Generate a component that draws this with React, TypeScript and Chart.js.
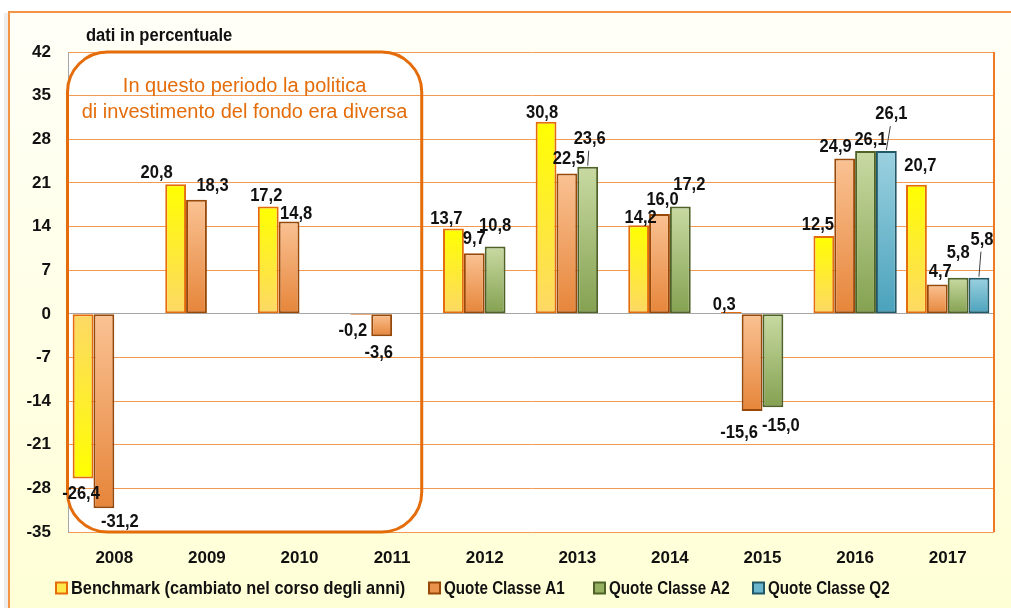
import React, { useEffect, useRef } from 'react';
import { Chart, registerables } from 'chart.js';

Chart.register(...registerables);

// ---------- data ----------
const years = ['2008', '2009', '2010', '2011', '2012', '2013', '2014', '2015', '2016', '2017'];
const benchmark = [-26.4, 20.8, 17.2, -0.2, 13.7, 30.8, 14.2, 0.3, 12.5, 20.7];
const classeA1 = [-31.2, 18.3, 14.8, -3.6, 9.7, 22.5, 16.0, -15.6, 24.9, 4.7];
const classeA2 = [null, null, null, null, 10.8, 23.6, 17.2, -15.0, 26.1, 5.8];
const classeQ2 = [null, null, null, null, null, null, null, null, 26.1, 5.8];
const seriesNames = [
  'Benchmark (cambiato nel corso degli anni)',
  'Quote Classe A1',
  'Quote Classe A2',
  'Quote Classe Q2',
];
const yMin = -35;
const yMax = 42;
const yStep = 7;
const yAxisTitle = 'dati in percentuale';
const noteLines = ['In questo periodo la politica', 'di investimento del fondo era diversa'];
const noteFirstYear = 0;
const noteLastYear = 3;

// label nudges (pixels) per series, per year
const labelDx = [
  [-2, -19, -2, -8, -7, -4, 2, -7, -6, 4],
  [16, 16, 7, -3, 0, 2, 3, -13, -9, 3],
  [0, 0, 0, 0, 0, 2, 9, 8, 5, 0],
  [0, 0, 0, 0, 0, 0, 0, 0, 5, 3],
];
const labelDy = [
  [3, -2, -2, 4, -1, 0, 1, 2, -2, -10],
  [1, -5, 1, 5, -6, -6, -5, 10, -3, -4],
  [0, 0, 0, 0, -12, -19, -13, 6, -2, -16],
  [0, 0, 0, 0, 0, 0, 0, 0, -28, -29],
];
const leaderLines = [[], [], [5], [8, 9]];
// legend item offsets from the plot's left edge
const legendOffsets = [-13, 360, 525, 684];

// ---------- styles ----------
const SANS = "'Liberation Sans', Arial, sans-serif";

const palettes = [
  { a: '#FFFF00', b: '#FDD866', border: '#E46C0A', legend: '#FFE94A' },
  { a: '#FAC293', b: '#E6853A', border: '#984807', legend: '#E8924C' },
  { a: '#C8DAA2', b: '#84A150', border: '#4F6228', legend: '#94B060' },
  { a: '#9BD1E0', b: '#4AA2BC', border: '#215968', legend: '#6BB6CC' },
];

function barFill(i: number) {
  return (c: any) => {
    const p = palettes[i];
    const chart = c.chart;
    const v = c.raw;
    if (c.type !== 'data' || v == null || !chart.chartArea || !chart.scales.y) return p.b;
    const ys = chart.scales.y;
    const yv = ys.getPixelForValue(v);
    const y0 = ys.getPixelForValue(0);
    const top = Math.min(yv, y0);
    const bot = Math.max(yv, y0);
    if (bot - top < 1) return p.b;
    const g = chart.ctx.createLinearGradient(0, top, 0, bot);
    if (i === 0 && v < 0) {
      g.addColorStop(0, p.b);
      g.addColorStop(1, p.a);
    } else {
      g.addColorStop(0, p.a);
      g.addColorStop(1, p.b);
    }
    return g;
  };
}

const fmt = (v: number) => v.toFixed(1).replace('.', ',');

// draws horizontally condensed text (emulates a narrow face)
function narrowText(ctx: CanvasRenderingContext2D, text: string, x: number, y: number, sx: number) {
  ctx.save();
  ctx.translate(x, y);
  ctx.scale(sx, 1);
  ctx.fillText(text, 0, 0);
  ctx.restore();
}

const decorPlugin = {
  id: 'decor',
  beforeDraw(chart: any) {
    const { ctx, width, height, chartArea } = chart;
    ctx.save();
    ctx.fillStyle = '#FFFFFF';
    ctx.fillRect(0, 0, width, height);
    ctx.fillStyle = '#EDEDED';
    ctx.fillRect(4, 13, 4, height);
    const fx = 9;
    const fy = 12;
    const g = ctx.createLinearGradient(0, fy, 0, height);
    g.addColorStop(0, '#FFFFF8');
    g.addColorStop(1, '#FFFFD6');
    ctx.fillStyle = g;
    ctx.fillRect(fx, fy, width - fx + 5, height - fy + 5);
    ctx.strokeStyle = '#F39345';
    ctx.lineWidth = 2;
    ctx.strokeRect(fx, fy, width - fx + 5, height - fy + 5);
    ctx.fillStyle = '#FFFFFF';
    ctx.fillRect(chartArea.left, chartArea.top, chartArea.right - chartArea.left, chartArea.bottom - chartArea.top);
    ctx.restore();
  },
  afterDatasetsDraw(chart: any) {
    const { ctx, chartArea, scales } = chart;
    const xs = scales.x;
    const ys = scales.y;
    ctx.save();
    ctx.strokeStyle = '#EE7A26';
    ctx.lineWidth = 2;
    ctx.beginPath();
    ctx.moveTo(chartArea.right, chartArea.top);
    ctx.lineTo(chartArea.right, chartArea.bottom);
    ctx.stroke();

    // rounded note box
    const catW = (chartArea.right - chartArea.left) / years.length;
    const left = xs.getPixelForValue(noteFirstYear) - catW * 0.5 - 0.5;
    const right = xs.getPixelForValue(noteLastYear) + catW * 0.32;
    const top = ys.getPixelForValue(yMax);
    const bottom = ys.getPixelForValue(yMin);
    const r = 40;
    ctx.strokeStyle = '#E46C0A';
    ctx.lineWidth = 3;
    ctx.beginPath();
    ctx.moveTo(left + r, top);
    ctx.lineTo(right - r, top);
    ctx.arcTo(right, top, right, top + r, r);
    ctx.lineTo(right, bottom - r);
    ctx.arcTo(right, bottom, right - r, bottom, r);
    ctx.lineTo(left + r, bottom);
    ctx.arcTo(left, bottom, left, bottom - r, r);
    ctx.lineTo(left, top + r);
    ctx.arcTo(left, top, left + r, top, r);
    ctx.closePath();
    ctx.stroke();
    ctx.fillStyle = '#E46C0A';
    ctx.font = `20px ${SANS}`;
    ctx.textAlign = 'center';
    ctx.textBaseline = 'alphabetic';
    const cx = (left + right) / 2;
    narrowText(ctx, noteLines[0], cx, top + 40, 1.0);
    narrowText(ctx, noteLines[1], cx, top + 65.5, 1.0);

    // data labels
    ctx.font = `bold 19px ${SANS}`;
    ctx.textAlign = 'center';
    ctx.textBaseline = 'middle';
    chart.data.datasets.forEach((ds: any, di: number) => {
      const meta = chart.getDatasetMeta(di);
      meta.data.forEach((el: any, i: number) => {
        const v = ds.data[i];
        if (v == null) return;
        const pos = v >= 0;
        const lx = el.x + labelDx[di][i];
        const ly = (pos ? el.y - 9 : el.y + 12) + labelDy[di][i];
        ctx.fillStyle = '#111111';
        narrowText(ctx, fmt(v), lx, ly, 0.87);
        if (leaderLines[di].includes(i)) {
          ctx.strokeStyle = '#404040';
          ctx.lineWidth = 1;
          ctx.beginPath();
          ctx.moveTo(lx - 1, ly + 12);
          ctx.lineTo(el.x, el.y - 1);
          ctx.stroke();
        }
      });
    });
    ctx.restore();
  },
  afterDraw(chart: any) {
    const { ctx, chartArea } = chart;
    ctx.save();
    ctx.fillStyle = '#111111';
    ctx.font = `bold 18px ${SANS}`;
    ctx.textAlign = 'left';
    ctx.textBaseline = 'alphabetic';
    narrowText(ctx, yAxisTitle, chartArea.left + 18, chartArea.top - 11, 0.92);

    // legend
    ctx.font = `bold 19px ${SANS}`;
    ctx.textBaseline = 'middle';
    const ly = chartArea.bottom + 56;
    seriesNames.forEach((name, i) => {
      const p = palettes[i];
      const x = chartArea.left + legendOffsets[i];
      const bs = 11;
      ctx.fillStyle = p.legend;
      ctx.fillRect(x + 1, ly - bs / 2, bs, bs);
      ctx.strokeStyle = p.border;
      ctx.lineWidth = 2;
      ctx.strokeRect(x + 1, ly - bs / 2, bs, bs);
      ctx.fillStyle = '#111111';
      narrowText(ctx, name, x + 16, ly + 1, i === 0 ? 0.86 : 0.8);
    });
    ctx.restore();
  },
};

export default function App() {
  const canvasRef = useRef<HTMLCanvasElement | null>(null);

  useEffect(() => {
    const canvas = canvasRef.current;
    if (!canvas) return;
    const chart = new Chart(canvas, {
      type: 'bar',
      data: {
        labels: years,
        datasets: [benchmark, classeA1, classeA2, classeQ2].map((d, i) => ({
          label: seriesNames[i],
          data: d,
          backgroundColor: barFill(i),
          borderColor: palettes[i].border,
          borderWidth: 2,
          borderSkipped: false,
          categoryPercentage: 0.9,
          barPercentage: 1.0,
        })),
      },
      options: {
        responsive: false,
        animation: false,
        layout: { padding: { left: 8, top: 52, right: 17, bottom: 0 } },
        plugins: {
          legend: { display: false },
          tooltip: { enabled: false },
          title: { display: false },
        },
        scales: {
          x: {
            grid: { display: false },
            border: { display: false },
            ticks: {
              color: '#111111',
              font: { family: SANS, size: 17, weight: 'bold' },
              padding: 8,
            },
            afterFit: (s: any) => {
              s.height = 76;
            },
          },
          y: {
            min: yMin,
            max: yMax,
            grid: {
              drawTicks: false,
              color: (c: any) => (c.tick && c.tick.value === 0 ? '#A6A6A6' : '#F39A52'),
              lineWidth: 1,
            },
            border: { display: true, color: '#A6A6A6', width: 1 },
            ticks: {
              stepSize: yStep,
              color: '#111111',
              font: { family: SANS, size: 17, weight: 'bold' },
              padding: 17,
            },
            afterFit: (s: any) => {
              s.width = 60;
            },
          },
        },
      },
      plugins: [decorPlugin],
    } as any);
    return () => chart.destroy();
  }, []);

  return (
    <div style={{ position: 'fixed', left: 0, top: 0, width: 1011, height: 608 }}>
      <canvas ref={canvasRef} width={1011} height={608} style={{ display: 'block' }} />
    </div>
  );
}
